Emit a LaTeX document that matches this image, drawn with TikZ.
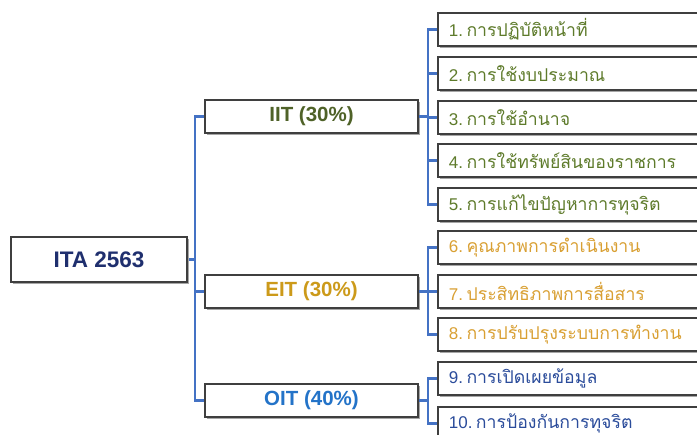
\documentclass[tikz,border=0pt]{standalone}
\usepackage{fontspec}
\setmainfont{Liberation Sans}
\newfontfamily\thaifont[Script=Thai,Scale=1.04]{Loma}
\usetikzlibrary{shadows}
\definecolor{connblue}{HTML}{4472C4}
\definecolor{boxline}{HTML}{3F3F3F}
\definecolor{roottext}{HTML}{1F2F6E}
\definecolor{iitcol}{HTML}{4F6228}
\definecolor{iitleaf}{HTML}{5E7B2B}
\definecolor{eitcol}{HTML}{CC9A1A}
\definecolor{eitleaf}{HTML}{D9A033}
\definecolor{oitcol}{HTML}{2373C8}
\definecolor{oitleaf}{HTML}{2B4C9B}
\tikzset{
  box/.style={draw=boxline, line width=1.7pt, fill=white, rectangle,
    drop shadow={shadow xshift=1.8pt, shadow yshift=-1.8pt, fill=black!35, opacity=1}},
  rootbox/.style={box, minimum width=176pt, minimum height=45pt, inner sep=0pt,
    font=\fontsize{22.5}{26}\selectfont\bfseries, text=roottext},
  midbox/.style={box, minimum width=213pt, minimum height=33pt, inner sep=0pt,
    font=\fontsize{20.5}{24}\selectfont\bfseries},
  leafbox/.style={box, anchor=west, minimum height=33pt, text width=262pt, align=left,
    inner xsep=11pt, inner ysep=0pt, font=\fontsize{17}{20}\selectfont},
  conn/.style={draw=connblue, line width=2.4pt}
}
\newcommand{\lf}[2]{#1\hspace{3.5pt}{\thaifont #2}}
\begin{document}
\begin{tikzpicture}[x=1pt, y=-1pt]
\useasboundingbox (0,0) rectangle (697,435);
\clip (0,0) rectangle (697,435);
% connectors: root to middle
\draw[conn] (10,259.5) -- (196,259.5);
% nodes
\node[rootbox] (root) at (99,259.5) {ITA 2563};
\node[midbox, text=iitcol] (iit) at (311.5,116.5) {IIT (30\%)};
\node[midbox, text=eitcol] (eit) at (311.5,291.5) {EIT (30\%)};
\node[midbox, text=oitcol] (oit) at (311.5,400.5) {OIT (40\%)};
\node[leafbox, text=iitleaf] (l1) at (437,29.5) {\lf{1.}{การปฏิบัติหน้าที่}};
\node[leafbox, text=iitleaf] (l2) at (437,73.5) {\lf{2.}{การใช้งบประมาณ}};
\node[leafbox, text=iitleaf] (l3) at (437,117.5) {\lf{3.}{การใช้อำนาจ}};
\node[leafbox, text=iitleaf] (l4) at (437,160.5) {\lf{4.}{การใช้ทรัพย์สินของราชการ}};
\node[leafbox, text=iitleaf] (l5) at (437,204.5) {\lf{5.}{การแก้ไขปัญหาการทุจริต}};
\node[leafbox, text=eitleaf] (l6) at (437,247.5) {\lf{6.}{คุณภาพการดำเนินงาน}};
\node[leafbox, text=eitleaf] (l7) at (437,291.5) {\lf{7.}{ประสิทธิภาพการสื่อสาร}};
\node[leafbox, text=eitleaf] (l8) at (437,334.5) {\lf{8.}{การปรับปรุงระบบการทำงาน}};
\node[leafbox, text=oitleaf] (l9) at (437,378.5) {\lf{9.}{การเปิดเผยข้อมูล}};
\node[leafbox, text=oitleaf] (l10) at (437,423.5) {\lf{10.}{การป้องกันการทุจริต}};
\draw[conn] (iit.west) -- ++(-9,0) |- (oit.west);
\draw[conn] (eit.west) -- ++(-9,0);
% IIT bracket
\draw[conn] (iit.east) -- ++(10,0);
\draw[conn] (l1.west) -- ++(-9,0) |- (l5.west);
\foreach \n in {l2,l3,l4} \draw[conn] (\n.west) -- ++(-9,0);
% EIT bracket
\draw[conn] (eit.east) -- ++(10,0);
\draw[conn] (l6.west) -- ++(-9,0) |- (l8.west);
\draw[conn] (l7.west) -- ++(-9,0);
% OIT bracket
\draw[conn] (oit.east) -- ++(10,0);
\draw[conn] (l9.west) -- ++(-9,0) |- (l10.west);
\end{tikzpicture}
\end{document}
